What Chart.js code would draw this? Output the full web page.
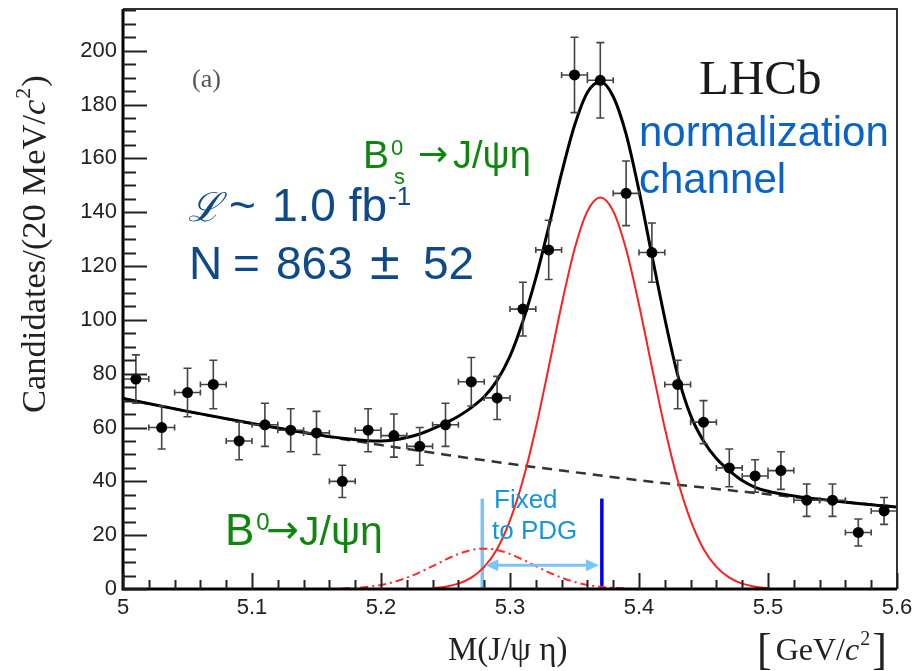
<!DOCTYPE html>
<html>
<head>
<meta charset="utf-8">
<script src="https://cdn.jsdelivr.net/npm/chart.js@4.4.1/dist/chart.umd.min.js"></script>
<style>
  body { margin: 0; background: #fff; }
  #wrap { width: 919px; height: 671px; }
</style>
</head>
<body>
<div id="wrap"><canvas id="chart"></canvas></div>
<script>
// data: bins are 20 MeV wide
const massBins = [5.01, 5.03, 5.05, 5.07, 5.09, 5.11, 5.13, 5.15, 5.17, 5.19,
  5.21, 5.23, 5.25, 5.27, 5.29, 5.31, 5.33, 5.35, 5.37, 5.39,
  5.41, 5.43, 5.45, 5.47, 5.49, 5.51, 5.53, 5.55, 5.57, 5.59];
const counts = [78, 60, 73, 76, 55, 61, 59, 58, 40, 59,
  57, 53, 61, 77, 71, 104, 126, 191, 189, 147,
  125, 76, 62, 45, 42, 44, 33, 33, 21, 29];
const countErr = [9, 8, 9, 9, 7, 8, 8, 8, 6, 8,
  8, 7, 8, 9, 8, 10, 11, 14, 14, 12,
  11, 9, 8, 7, 6, 7, 6, 6, 5, 5];
const binHalf = 0.01;

// total fit
const fitMass = [5.00, 5.05, 5.10, 5.15, 5.17, 5.19, 5.20, 5.21, 5.22, 5.23, 5.24, 5.25,
  5.26, 5.27, 5.28, 5.29, 5.30, 5.31, 5.32, 5.33, 5.34, 5.35, 5.36, 5.37, 5.38,
  5.39, 5.40, 5.41, 5.42, 5.43, 5.44, 5.45, 5.46, 5.47, 5.48, 5.49, 5.50, 5.52,
  5.55, 5.58, 5.60];
const fitTotal = [70.8, 66.0, 61.5, 57.4, 56.0, 55.1, 55.0, 55.4, 56.3, 57.6, 59.5, 61.7,
  64.2, 67.4, 71.4, 77.5, 86.5, 99.5, 115.5, 134.5, 154.5, 172.2, 184.5, 188.5, 183,
  169, 148, 124, 100.5, 79.5, 64.5, 55, 48.5, 44, 40.3, 37.8, 36.3, 34.6,
  32.8, 31.3, 30.5];

// combinatorial background (dashed)
const bkgMass = [5.00, 5.05, 5.10, 5.15, 5.20, 5.25, 5.30, 5.35, 5.40, 5.45, 5.50, 5.55, 5.60];
const bkgCurve = [70.8, 66.0, 61.5, 57.3, 53.5, 49.9, 46.5, 43.4, 40.4, 37.7, 35.2, 32.7, 30.5];

// Bs0 signal (red solid)
const bsMass = [5.24, 5.25, 5.26, 5.27, 5.28, 5.29, 5.30, 5.31, 5.32, 5.33, 5.34, 5.35, 5.36,
  5.37, 5.38, 5.39, 5.40, 5.41, 5.42, 5.43, 5.44, 5.45, 5.46, 5.47, 5.48, 5.49, 5.50];
const bsCurve = [0.35, 0.87, 2.0, 4.2, 8.2, 14.9, 25.5, 40.4, 59.8, 82.4, 105.6, 126.2, 140.4,
  145.5, 140.4, 126.2, 105.6, 82.4, 59.8, 40.4, 25.5, 14.9, 8.2, 4.2, 2.0, 0.87, 0.35];

// B0 component (red dash-dot)
const b0Mass = [5.17, 5.18, 5.19, 5.20, 5.21, 5.22, 5.23, 5.24, 5.25, 5.26, 5.27, 5.28,
  5.29, 5.30, 5.31, 5.32, 5.33, 5.34, 5.35, 5.36, 5.37, 5.38, 5.39];
const b0Curve = [0.2, 0.4, 0.8, 1.5, 2.6, 4.2, 6.2, 8.5, 10.9, 13.0, 14.5, 15.0,
  14.5, 13.0, 10.9, 8.5, 6.2, 4.2, 2.6, 1.5, 0.8, 0.4, 0.2];

// PDG mass markers
const pdgB0 = 5.2785;
const pdgBs = 5.3712;
const markTop = 33.6;
const arrowLevel = 8.8;

const xTickValues = [5, 5.1, 5.2, 5.3, 5.4, 5.5, 5.6];
const yTickValues = [0, 20, 40, 60, 80, 100, 120, 140, 160, 180, 200];

const pts = (xs, ys) => xs.map((x, i) => ({ x: x, y: ys[i] }));

const SANS = '"Liberation Sans", Arial, sans-serif';
const SERIF = '"Liberation Serif", "Times New Roman", serif';
const DEJAVU = '"DejaVu Sans", sans-serif';

function put(ctx, s, x, y, font, color) {
  ctx.font = font;
  ctx.fillStyle = color;
  ctx.fillText(s, x, y);
  return ctx.measureText(s).width;
}

const errorBars = {
  id: 'errorBars',
  beforeDatasetDraw(chart, args) {
    if (args.index !== 0) return;
    const { ctx, scales: { x, y } } = chart;
    ctx.save();
    ctx.strokeStyle = '#444';
    ctx.lineWidth = 1.6;
    massBins.forEach((m, i) => {
      const px = x.getPixelForValue(m);
      const py = y.getPixelForValue(counts[i]);
      const top = y.getPixelForValue(counts[i] + countErr[i]);
      const bot = y.getPixelForValue(counts[i] - countErr[i]);
      const l = x.getPixelForValue(m - binHalf);
      const r = x.getPixelForValue(m + binHalf);
      ctx.beginPath();
      ctx.moveTo(px, top); ctx.lineTo(px, bot);
      ctx.moveTo(px - 4, top); ctx.lineTo(px + 4, top);
      ctx.moveTo(px - 4, bot); ctx.lineTo(px + 4, bot);
      ctx.moveTo(l, py); ctx.lineTo(r, py);
      ctx.moveTo(l, py - 3); ctx.lineTo(l, py + 3);
      ctx.moveTo(r, py - 3); ctx.lineTo(r, py + 3);
      ctx.stroke();
    });
    ctx.restore();
  }
};

const frame = {
  id: 'frame',
  afterDraw(chart) {
    const { ctx, chartArea: a, scales: { x, y } } = chart;
    ctx.save();
    // top / right frame
    ctx.strokeStyle = '#333';
    ctx.lineWidth = 2;
    ctx.beginPath();
    ctx.moveTo(a.left, a.top); ctx.lineTo(a.right, a.top); ctx.lineTo(a.right, a.bottom);
    ctx.stroke();
    // axis lines
    ctx.strokeStyle = '#000';
    ctx.lineWidth = 3;
    ctx.beginPath();
    ctx.moveTo(a.left, a.top); ctx.lineTo(a.left, a.bottom); ctx.lineTo(a.right, a.bottom);
    ctx.stroke();
    // inner ticks
    ctx.lineWidth = 2;
    ctx.strokeStyle = '#222';
    ctx.beginPath();
    for (let v = 0; v <= y.max + 0.01; v += 5) {
      const py = Math.round(y.getPixelForValue(v)) + 0.5;
      const len = v % 20 === 0 ? 24 : 13;
      ctx.moveTo(a.left, py); ctx.lineTo(a.left + len, py);
    }
    for (let k = 0; k <= 30; k++) {
      const px = Math.round(x.getPixelForValue(5 + k * 0.02)) + 0.5;
      const len = k % 5 === 0 ? 16 : 9;
      ctx.moveTo(px, a.bottom); ctx.lineTo(px, a.bottom - len);
    }
    ctx.stroke();

    // fixed-to-PDG arrow
    const ay = y.getPixelForValue(arrowLevel);
    const ax1 = x.getPixelForValue(pdgB0) + 3;
    const ax2 = x.getPixelForValue(pdgBs) - 3;
    ctx.strokeStyle = '#7cc4f4';
    ctx.fillStyle = '#7cc4f4';
    ctx.lineWidth = 3;
    ctx.beginPath();
    ctx.moveTo(ax1 + 8, ay); ctx.lineTo(ax2 - 8, ay);
    ctx.stroke();
    ctx.beginPath();
    ctx.moveTo(ax1, ay); ctx.lineTo(ax1 + 13, ay - 6); ctx.lineTo(ax1 + 13, ay + 6); ctx.closePath();
    ctx.moveTo(ax2, ay); ctx.lineTo(ax2 - 13, ay - 6); ctx.lineTo(ax2 - 13, ay + 6); ctx.closePath();
    ctx.fill();

    // texts
    ctx.textBaseline = 'alphabetic';
    put(ctx, '(a)', 192, 87, '26px ' + SERIF, '#555');
    put(ctx, 'LHCb', 699, 94, '49px ' + SERIF, '#1a1a1a');
    put(ctx, 'normalization', 639, 146, '42px ' + SANS, '#0a64c8');
    put(ctx, 'channel', 639, 193, '42px ' + SANS, '#0a64c8');

    const green = '#0f870f';
    let gx = 363;
    gx += put(ctx, 'B', gx, 168, '39px ' + SANS, green);
    put(ctx, '0', gx + 2, 155, '22px ' + SANS, green);
    put(ctx, 's', gx + 5, 184, '22px ' + SANS, green);
    put(ctx, '\u2192', 418, 166, '36px ' + DEJAVU, green);
    put(ctx, 'J/\u03c8\u03b7', 453, 168, '38px ' + SANS, green);

    let bx = 225;
    bx += put(ctx, 'B', bx, 545, '44px ' + SANS, green);
    put(ctx, '0', bx + 2, 530, '24px ' + SANS, green);
    put(ctx, '\u2192', 266, 543, '39px ' + DEJAVU, green);
    put(ctx, 'J/\u03c8\u03b7', 299, 545, '41px ' + SANS, green);

    const navy = '#0e4a8a';
    put(ctx, '\u2112', 188, 221, 'italic 40px ' + SERIF, navy);
    put(ctx, '~', 229, 221, '46px ' + SANS, navy);
    let lx = 272;
    lx += put(ctx, '1.0 fb', lx, 221, '46px ' + SANS, navy);
    put(ctx, '-1', lx + 1, 205, '26px ' + SANS, navy);
    put(ctx, 'N', 189, 279, '46px ' + SANS, navy);
    put(ctx, '=', 233, 279, '46px ' + SANS, navy);
    put(ctx, '863', 276, 279, '46px ' + SANS, navy);
    put(ctx, '\u00b1', 370, 279, '54px ' + SANS, navy);
    put(ctx, '52', 423, 279, '46px ' + SANS, navy);

    put(ctx, 'Fixed', 494, 508, '26px ' + SANS, '#1896da');
    put(ctx, 'to PDG', 492, 539, '26px ' + SANS, '#1896da');

    // axis titles
    const ink = '#222';
    let tx = 448;
    put(ctx, 'M(J/\u03c8 \u03b7)', tx, 660, '33px ' + SERIF, ink);
    tx = 757;
    tx += put(ctx, '[', tx, 664, '44px ' + SERIF, ink) + 4;
    tx += put(ctx, 'GeV/', tx, 660, '32px ' + SERIF, ink);
    tx += put(ctx, 'c', tx, 660, 'italic 32px ' + SERIF, ink);
    tx += put(ctx, '2', tx + 1, 645, '20px ' + SERIF, ink) + 3;
    put(ctx, ']', tx, 664, '44px ' + SERIF, ink);

    ctx.translate(45, 413);
    ctx.rotate(-Math.PI / 2);
    let vx = 0;
    vx += put(ctx, 'Candidates/(20 MeV/', vx, 0, '34.5px ' + SERIF, ink);
    vx += put(ctx, 'c', vx, 0, 'italic 34.5px ' + SERIF, ink);
    vx += put(ctx, '2', vx + 1, -15, '22px ' + SERIF, ink) + 2;
    put(ctx, ')', vx, 0, '34.5px ' + SERIF, ink);
    ctx.restore();
  }
};

const ctx = document.getElementById('chart');
new Chart(ctx, {
  type: 'scatter',
  data: {
    datasets: [
      {
        label: 'Data',
        data: pts(massBins, counts),
        backgroundColor: '#000',
        borderColor: '#000',
        pointRadius: 5.5,
        borderWidth: 0,
        showLine: false
      },
      {
        label: 'Total fit',
        data: pts(fitMass, fitTotal),
        borderColor: '#000',
        borderWidth: 3,
        pointRadius: 0,
        showLine: true,
        cubicInterpolationMode: 'monotone'
      },
      {
        label: 'B0s signal',
        data: pts(bsMass, bsCurve),
        borderColor: '#ff1f1f',
        borderWidth: 2,
        pointRadius: 0,
        showLine: true,
        cubicInterpolationMode: 'monotone'
      },
      {
        label: 'B0',
        data: pts(b0Mass, b0Curve),
        borderColor: '#ff2a2a',
        borderWidth: 2,
        borderDash: [8, 4, 2, 4],
        pointRadius: 0,
        showLine: true,
        cubicInterpolationMode: 'monotone'
      },
      {
        label: 'Background',
        data: pts(bkgMass, bkgCurve),
        borderColor: '#333',
        borderWidth: 2.5,
        borderDash: [10, 7],
        pointRadius: 0,
        showLine: true,
        cubicInterpolationMode: 'monotone'
      },
      {
        label: 'PDG B0',
        data: pts([pdgB0, pdgB0], [0, markTop]),
        borderColor: '#7cc4f4',
        borderWidth: 3.5,
        pointRadius: 0,
        showLine: true
      },
      {
        label: 'PDG Bs',
        data: pts([pdgBs, pdgBs], [0, markTop]),
        borderColor: '#0000ee',
        borderWidth: 3.5,
        pointRadius: 0,
        showLine: true
      }
    ]
  },
  options: {
    responsive: true,
    maintainAspectRatio: false,
    animation: false,
    devicePixelRatio: 1,
    layout: { padding: { top: 9, right: 22, left: 0, bottom: 0 } },
    plugins: { legend: { display: false }, tooltip: { enabled: false } },
    scales: {
      x: {
        type: 'linear',
        min: 5,
        max: 5.6,
        border: { display: false },
        grid: { display: false, drawTicks: false },
        afterBuildTicks: (s) => { s.ticks = xTickValues.map(v => ({ value: v })); },
        afterFit: (s) => { s.height = 82; s.paddingLeft = 0; s.paddingRight = 0; },
        ticks: {
          padding: 6,
          color: '#222',
          maxRotation: 0,
          autoSkip: false,
          font: { family: 'Liberation Sans', size: 22 },
          callback: (v) => String(+v.toFixed(1))
        }
      },
      y: {
        min: 0,
        max: 215.5,
        border: { display: false },
        grid: { display: false, drawTicks: false },
        afterBuildTicks: (s) => { s.ticks = yTickValues.map(v => ({ value: v })); },
        afterFit: (s) => { s.width = 123; s.paddingTop = 0; s.paddingBottom = 0; },
        ticks: {
          padding: 6,
          color: '#222',
          font: { family: 'Liberation Sans', size: 22 }
        }
      }
    }
  },
  plugins: [errorBars, frame]
});
</script>
</body>
</html>
